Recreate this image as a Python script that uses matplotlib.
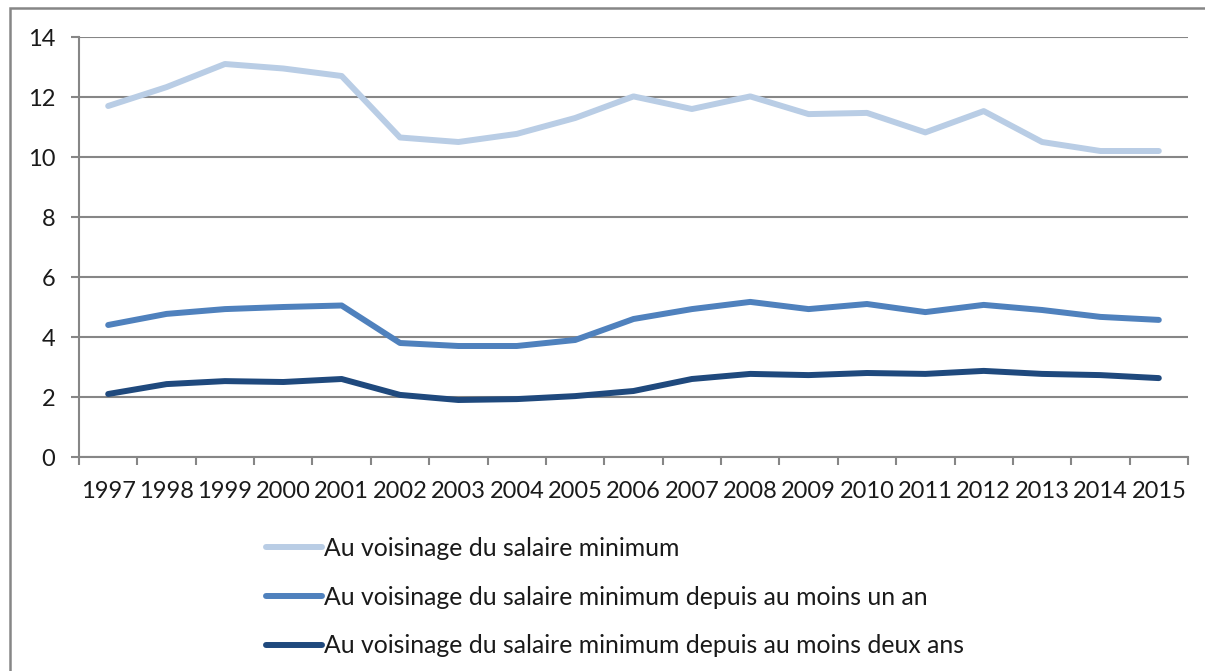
import matplotlib
matplotlib.use("Agg")
import matplotlib.pyplot as plt
from matplotlib.patches import Rectangle
from matplotlib.ticker import FixedLocator

years = ["1997", "1998", "1999", "2000", "2001", "2002", "2003", "2004", "2005", "2006",
         "2007", "2008", "2009", "2010", "2011", "2012", "2013", "2014", "2015"]

voisinage = [11.7, 12.33, 13.1, 12.95, 12.7, 10.65, 10.5, 10.77, 11.3, 12.02,
             11.6, 12.02, 11.43, 11.47, 10.82, 11.53, 10.5, 10.2, 10.2]
depuis_un_an = [4.4, 4.77, 4.93, 5.0, 5.05, 3.8, 3.7, 3.7, 3.9, 4.6,
                4.93, 5.17, 4.93, 5.1, 4.83, 5.07, 4.9, 4.67, 4.57]
depuis_deux_ans = [2.1, 2.43, 2.53, 2.5, 2.6, 2.07, 1.9, 1.93, 2.03, 2.2,
                   2.6, 2.77, 2.73, 2.8, 2.77, 2.87, 2.77, 2.73, 2.63]

labels = ["Au voisinage du salaire minimum",
          "Au voisinage du salaire minimum depuis au moins un an",
          "Au voisinage du salaire minimum depuis au moins deux ans"]
colors = ["#B9CDE5", "#4F81BD", "#1F497D"]

W, H = 1205, 671
GRID = "#868686"
TXT = "#1a1a1a"

plt.rcParams["font.family"] = ["Lato", "DejaVu Sans"]

fig = plt.figure(figsize=(W / 100, H / 100), dpi=100)
ax = fig.add_axes([79 / W, 1 - 457 / H, (1188 - 79) / W, (457 - 37) / H])

x = list(range(len(years)))
for vals, lab, col in zip([voisinage, depuis_un_an, depuis_deux_ans], labels, colors):
    ax.plot(x, vals, color=col, lw=4.3, solid_capstyle="round", solid_joinstyle="round",
            label=lab, zorder=3)

ax.set_xlim(-0.5, len(years) - 0.5)
ax.set_ylim(0, 14)
ax.set_yticks(range(0, 15, 2))
ax.set_xticks(x)
ax.set_xticklabels(years)
ax.xaxis.set_minor_locator(FixedLocator([i - 0.5 for i in range(len(years) + 1)]))

ax.grid(axis="y", color=GRID, lw=1.5, zorder=1)
for side in ["top", "right"]:
    ax.spines[side].set_visible(False)
for side in ["left", "bottom"]:
    ax.spines[side].set_color(GRID)
    ax.spines[side].set_linewidth(1.5)

ax.tick_params(axis="y", length=6, width=1.5, color=GRID, pad=11, labelsize=17,
               labelcolor=TXT)
ax.tick_params(axis="x", which="major", length=0, pad=17, labelsize=17, labelcolor=TXT)
ax.tick_params(axis="x", which="minor", length=6, width=1.5, color=GRID)

leg = fig.legend(loc="upper left", bbox_to_anchor=(266 / W, 1 - 537 / H), frameon=False,
                 fontsize=17.8, handlelength=2.25, handletextpad=0.1, labelspacing=1.04,
                 borderaxespad=0, borderpad=0)
for t in leg.get_texts():
    t.set_color(TXT)

# outer chart frame (only top and left edges fall inside the image)
fig.patches.append(Rectangle((10 / W, -0.1), 1.2, 1 - 8 / H + 0.1, transform=fig.transFigure,
                             fill=False, edgecolor=GRID, lw=1.8, figure=fig))

fig.savefig("out.png", dpi=100)
